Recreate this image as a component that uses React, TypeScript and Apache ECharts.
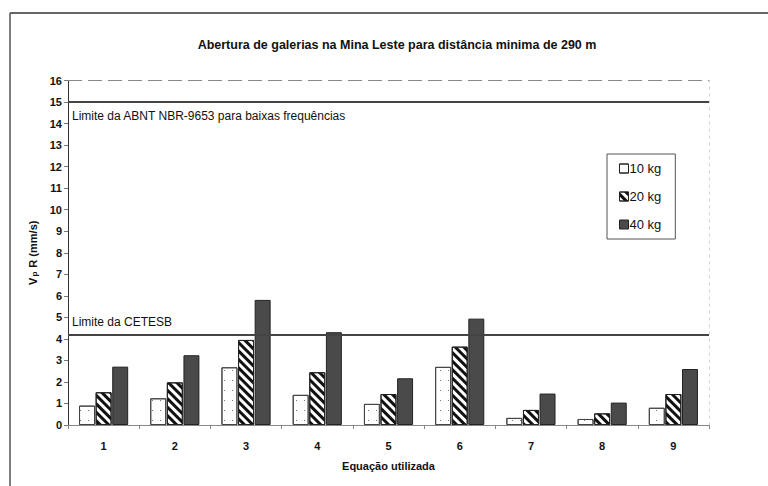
import React, { useEffect, useRef } from "react";
import * as echarts from "echarts";

// Equations compared (x axis) and peak particle velocity per charge (mm/s)
const equations = ["1", "2", "3", "4", "5", "6", "7", "8", "9"];
const charge10kg = [0.9, 1.24, 2.68, 1.4, 0.98, 2.7, 0.33, 0.28, 0.8];
const charge20kg = [1.52, 1.98, 3.95, 2.45, 1.44, 3.64, 0.7, 0.54, 1.44];
const charge40kg = [2.71, 3.24, 5.81, 4.31, 2.17, 4.94, 1.46, 1.04, 2.6];

const seriesNames = ["10 kg", "20 kg", "40 kg"];

// Reference limits (mm/s)
const limitAbnt = 15;
const limitCetesb = 4.2;
const labelAbnt = "Limite da ABNT NBR-9653 para baixas frequências";
const labelCetesb = "Limite da CETESB";

const titleText = "Abertura de galerias na Mina Leste para distância minima de 290 m";
const xTitle = "Equação utilizada";

const FONT = "'Liberation Sans', Arial, sans-serif";

export default function App() {
  const ref = useRef<HTMLDivElement>(null);

  useEffect(() => {
    if (!ref.current) return;
    const chart = echarts.init(ref.current, undefined, { renderer: "svg" });

    const barBase = {
      type: "bar" as const,
      barGap: "4%",
      barCategoryGap: "31%",
    };

    chart.setOption({
      animation: false,
      backgroundColor: "#ffffff",
      textStyle: { fontFamily: FONT },
      title: {
        text: titleText,
        left: 392,
        textAlign: "center",
        top: 33,
        textStyle: { fontFamily: FONT, fontWeight: "bold", fontSize: 12.5, color: "#111" },
      },
      legend: {
        data: seriesNames,
        orient: "vertical",
        left: 607,
        top: 154,
        icon: "rect",
        itemWidth: 9,
        itemHeight: 9,
        itemGap: 15,
        padding: [8, 14, 8, 12],
        borderColor: "#555",
        borderWidth: 1,
        itemStyle: { borderColor: "#222", borderWidth: 1 },
        textStyle: { fontFamily: FONT, fontSize: 13, color: "#111", padding: [0, 0, 0, -4] },
      },
      grid: { left: 68, right: 59, top: 80.5, bottom: 61 },
      xAxis: {
        type: "category",
        data: equations,
        name: xTitle,
        nameLocation: "middle",
        nameGap: 35,
        nameTextStyle: { fontFamily: FONT, fontWeight: "bold", fontSize: 11, color: "#111" },
        axisLine: { lineStyle: { color: "#888", width: 1 } },
        axisTick: { show: true, length: 4, lineStyle: { color: "#888" } },
        axisLabel: { fontFamily: FONT, fontWeight: "bold", fontSize: 11, color: "#111", margin: 15 },
      },
      yAxis: [
        {
          type: "value",
          min: 0,
          max: 16,
          interval: 1,
          name: "{v|V}{s|p}{v| R (mm/s)}",
          nameLocation: "middle",
          nameGap: 29,
          nameRotate: 90,
          nameTextStyle: {
            rich: {
              v: { fontFamily: FONT, fontWeight: "bold", fontSize: 11, color: "#111" },
              s: { fontFamily: FONT, fontWeight: "bold", fontSize: 8, color: "#111", padding: [4, 1, 0, 1] },
            },
          },
          axisLine: { show: true, lineStyle: { color: "#333", width: 1 } },
          axisTick: { show: true, length: 4, lineStyle: { color: "#777" } },
          splitLine: { show: false },
          axisLabel: { fontFamily: FONT, fontWeight: "bold", fontSize: 11, color: "#111", margin: 6 },
        },
        {
          type: "value",
          min: 0,
          max: 16,
          interval: 1,
          position: "right",
          axisLine: { show: true, lineStyle: { color: "#d0d0d0", width: 1, type: [2, 5] } },
          axisTick: { show: false },
          axisLabel: { show: false },
          splitLine: { show: false },
        },
      ],
      series: [
        {
          ...barBase,
          name: seriesNames[0],
          data: charge10kg,
          itemStyle: {
            color: "#ffffff",
            borderColor: "#444",
            borderWidth: 1,
            decal: {
              symbol: "rect",
              symbolSize: 1,
              color: "#777",
              dashArrayX: [1, 7],
              dashArrayY: [1, 9],
              rotation: 0,
            },
          },
          markLine: {
            silent: true,
            symbol: "none",
            label: {
              fontFamily: FONT,
              fontSize: 12,
              color: "#111",
            },
            data: [
              {
                yAxis: limitAbnt,
                lineStyle: { color: "#444", width: 2, type: "solid" },
                label: { formatter: labelAbnt, position: "insideStartBottom", distance: [4, 8] },
              },
              {
                yAxis: limitCetesb,
                lineStyle: { color: "#444", width: 2, type: "solid" },
                label: { formatter: labelCetesb, position: "insideStartTop", distance: [4, 7] },
              },
              {
                yAxis: 16,
                lineStyle: { color: "#888", width: 1, type: [14, 6] },
                label: { show: false },
              },
            ],
          },
        },
        {
          ...barBase,
          name: seriesNames[1],
          data: charge20kg,
          itemStyle: {
            color: "#ffffff",
            borderColor: "#222",
            borderWidth: 1,
            decal: {
              symbol: "rect",
              symbolSize: 1,
              color: "#111",
              dashArrayX: [1, 0],
              dashArrayY: [3, 3],
              rotation: Math.PI / 4,
            },
          },
        },
        {
          ...barBase,
          name: seriesNames[2],
          data: charge40kg,
          itemStyle: { color: "#4a4a4a", borderColor: "#222", borderWidth: 1 },
        },
      ],
      graphic: [
        {
          type: "line",
          shape: { x1: 10, y1: 13, x2: 768, y2: 13 },
          style: { stroke: "#666", lineWidth: 2 },
        },
        {
          type: "line",
          shape: { x1: 10, y1: 13, x2: 10, y2: 486 },
          style: { stroke: "#555", lineWidth: 1.5 },
        },
      ],
    });

    return () => chart.dispose();
  }, []);

  return <div ref={ref} style={{ width: 768, height: 486, position: "fixed", left: 0, top: 0 }} />;
}
